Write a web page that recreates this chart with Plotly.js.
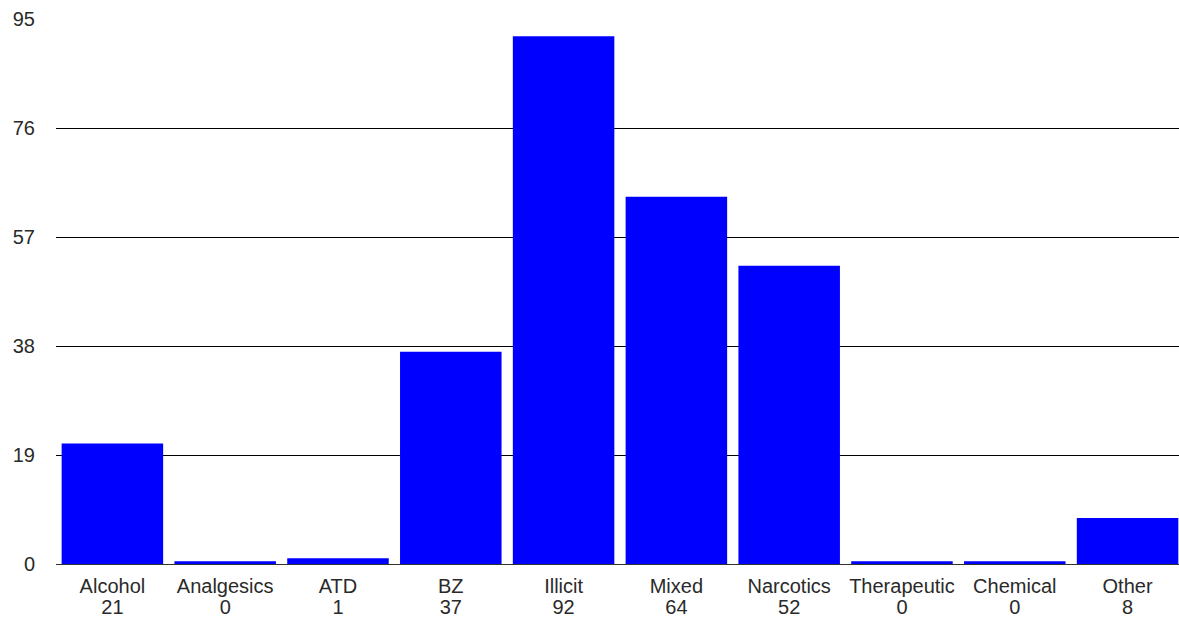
<!DOCTYPE html>
<html>
<head>
<meta charset="utf-8">
<script src="https://cdn.plot.ly/plotly-3.0.1.min.js"></script>
<style>
html,body{margin:0;padding:0;background:#fff;overflow:hidden;}
#chart{width:1179px;height:621px;}
</style>
</head>
<body>
<div id="chart"></div>
<script>
// Data
const categories = ["Alcohol","Analgesics","ATD","BZ","Illicit","Mixed","Narcotics","Therapeutic","Chemical","Other"];
const counts = [21, 0, 1, 37, 92, 64, 52, 0, 0, 8];
const yTicks = [0, 19, 38, 57, 76, 95];
const gridTicks = [19, 38, 57, 76];

// zero counts are drawn as a thin stub like the reference
const drawn = counts.map(v => Math.max(v, 0.5));
const xIdx = categories.map((c, i) => i);
const xRange = [-0.5, 9.456];

const font = {family: "Liberation Sans, Arial, sans-serif", size: 20, color: "#2a2a2a"};

const trace = {
  type: "bar",
  x: xIdx,
  y: drawn,
  marker: {color: "#0000ff", line: {width: 0}},
  hoverinfo: "skip",
  showlegend: false
};

const gridTrace = {type: "scatter", x: [], y: [], yaxis: "y2", showlegend: false, hoverinfo: "skip"};
const countTrace = {type: "scatter", x: [], y: [], xaxis: "x2", showlegend: false, hoverinfo: "skip"};

const layout = {
  width: 1179,
  height: 621,
  margin: {l: 56, r: 0, t: 19, b: 57, pad: 0},
  paper_bgcolor: "#ffffff",
  plot_bgcolor: "#ffffff",
  bargap: 0.1,
  font: font,
  xaxis: {
    range: xRange,
    tickvals: xIdx,
    ticktext: categories,
    showgrid: false,
    zeroline: false,
    showline: false,
    ticks: "",
    ticklabelstandoff: 8,
    tickfont: font,
    fixedrange: true
  },
  xaxis2: {
    overlaying: "x",
    anchor: "y",
    side: "bottom",
    range: xRange,
    tickvals: xIdx,
    ticktext: counts.map(String),
    showgrid: false,
    zeroline: false,
    showline: false,
    ticks: "",
    ticklabelstandoff: 29,
    tickfont: font,
    fixedrange: true
  },
  yaxis: {
    range: [0, 95],
    tickvals: yTicks,
    ticktext: yTicks.map(String),
    showgrid: false,
    zeroline: true,
    zerolinecolor: "#333",
    zerolinewidth: 1,
    showline: false,
    ticks: "",
    ticklabelstandoff: 20,
    tickfont: font,
    fixedrange: true
  },
  yaxis2: {
    overlaying: "y",
    range: [0, 95],
    tickvals: gridTicks,
    showticklabels: false,
    showgrid: true,
    gridcolor: "#000",
    gridwidth: 1,
    zeroline: false,
    ticks: "",
    fixedrange: true
  }
};

Plotly.newPlot("chart", [gridTrace, countTrace, trace], layout, {displayModeBar: false, staticPlot: true});
</script>
</body>
</html>
